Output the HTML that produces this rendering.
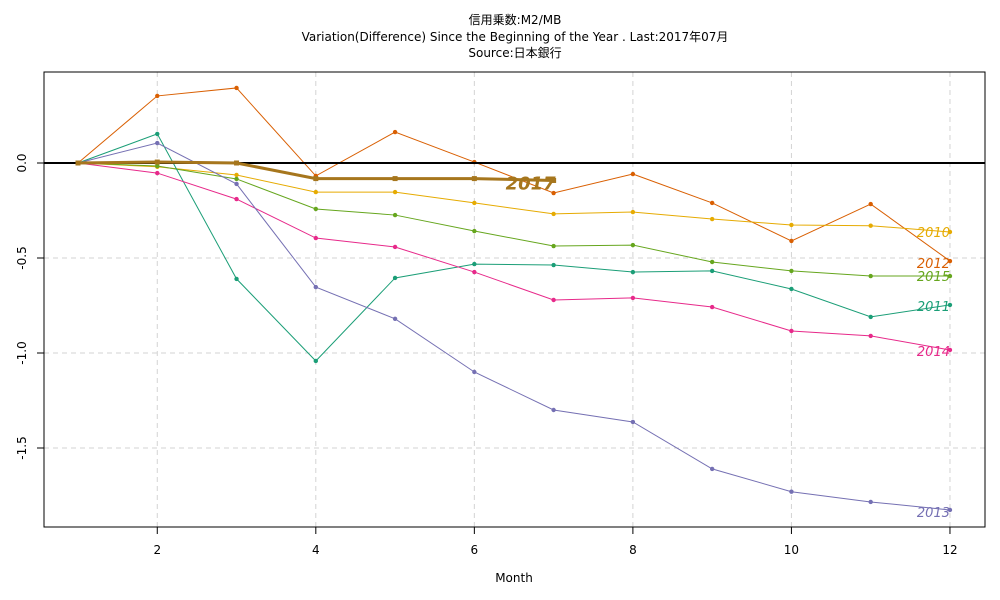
<!DOCTYPE html>
<html><head><meta charset="utf-8"><style>
body{margin:0;background:#fff}
svg{display:block;font-family:"DejaVu Sans","Noto Sans CJK JP",sans-serif}
</style></head><body>
<svg id="chart" width="1000" height="600">
<g font-size="12" text-anchor="middle" fill="#000">
<text x="515" y="24">信用乗数:M2/MB</text>
<text x="515" y="41">Variation(Difference) Since the Beginning of the Year . Last:2017年07月</text>
<text x="515" y="57">Source:日本銀行</text>
</g>
<text x="514" y="582" font-size="12" text-anchor="middle">Month</text>
<g id="grid"></g>
<g id="axes"></g>
<g id="series"></g>
<rect x="44" y="72" width="941" height="455" fill="none" stroke="#000"/>
</svg>
<script>
const months=[1,2,3,4,5,6,7,8,9,10,11,12];
const xTicks=[2,4,6,8,10,12];
const yTicks=[0,-0.5,-1,-1.5];
const yTickLabels=["0.0","-0.5","-1.0","-1.5"];
const s2010=[0,-0.02,-0.063,-0.153,-0.153,-0.21,-0.268,-0.258,-0.295,-0.326,-0.33,-0.363];
const s2011=[0,0.153,-0.61,-1.042,-0.605,-0.532,-0.537,-0.574,-0.568,-0.663,-0.81,-0.747];
const s2012=[0,0.353,0.395,-0.068,0.163,0.005,-0.158,-0.058,-0.21,-0.41,-0.216,-0.516];
const s2013=[0,0.105,-0.11,-0.653,-0.82,-1.1,-1.3,-1.363,-1.61,-1.73,-1.784,-1.826];
const s2014=[0,-0.053,-0.19,-0.395,-0.442,-0.574,-0.721,-0.71,-0.758,-0.884,-0.91,-0.984];
const s2015=[0,-0.016,-0.084,-0.242,-0.274,-0.358,-0.437,-0.432,-0.521,-0.568,-0.595,-0.595];
const s2017=[0,0.005,0,-0.082,-0.082,-0.082,-0.092];
const NS="http://www.w3.org/2000/svg";
const X=m=>78+(m-1)*79.27;
const Y=v=>163-v*190;
function mk(tag,attrs,parent){const e=document.createElementNS(NS,tag);for(const k in attrs)e.setAttribute(k,attrs[k]);parent.appendChild(e);return e;}
const grid=document.getElementById('grid'),axes=document.getElementById('axes'),ser=document.getElementById('series');
xTicks.forEach(t=>{
 const l=mk('line',{x1:X(t),x2:X(t),y1:72,y2:527,stroke:'#d3d3d3','stroke-dasharray':'5,4'},grid);
 
 
 const tk=mk('line',{x1:X(t),x2:X(t),y1:527,y2:534,stroke:'#000'},axes);
 
 
 const tx=mk('text',{x:X(t),y:554,'font-size':12,'text-anchor':'middle'},axes);tx.textContent=t;
 
 
});
yTicks.forEach((t,i)=>{
 if(t!==0){const l=mk('line',{x1:44,x2:985,y1:Y(t),y2:Y(t),stroke:'#d3d3d3','stroke-dasharray':'5,4'},grid);
 
 }
 const tk=mk('line',{x1:37,x2:44,y1:Y(t),y2:Y(t),stroke:'#000'},axes);
 
 
 const tx=mk('text',{x:0,y:0,'font-size':12,'text-anchor':'middle',transform:`translate(26,${Y(t)}) rotate(-90)`},axes);tx.textContent=yTickLabels[i];
 
 
});
const series=[
 ['2012',s2012,'#D95F02',268],['2010',s2010,'#E6AB02',237],['2015',s2015,'#66A61E',281],
 ['2011',s2011,'#1B9E77',311],['2014',s2014,'#E7298A',356],['2013',s2013,'#7570B3',517]];
series.forEach(([name,d,c,ly])=>{
 const g=mk('g',{},ser);
 
 
 const p=mk('polyline',{points:d.map((v,i)=>X(months[i])+','+Y(v)).join(' '),fill:'none',stroke:c,'stroke-width':1},g);
 
 
 d.forEach((v,i)=>{const pt=mk('circle',{cx:X(months[i]),cy:Y(v),r:2.2,fill:c},g);
  
  });
 const t=mk('text',{x:950,y:ly,'font-size':13,'font-style':'italic','text-anchor':'end',fill:c},g);t.textContent=name;
 
 
});
const z=mk('line',{x1:44,x2:985,y1:Y(0),y2:Y(0),stroke:'#000','stroke-width':2},ser);


const g7=mk('g',{},ser);


const p7=mk('polyline',{points:s2017.map((v,i)=>X(months[i])+','+Y(v)).join(' '),fill:'none',stroke:'#A6761D','stroke-width':3},g7);


s2017.forEach((v,i)=>{const pt=mk('rect',{x:X(months[i])-2.5,y:Y(v)-2.5,width:5,height:5,fill:'#A6761D'},g7);
 
 });
const t7=mk('text',{x:X(7)-23,y:Y(s2017[6])+9,'font-size':18,'font-weight':'bold','font-style':'italic','text-anchor':'middle',fill:'#A6761D'},g7);t7.textContent='2017';


</script>
</body></html>
